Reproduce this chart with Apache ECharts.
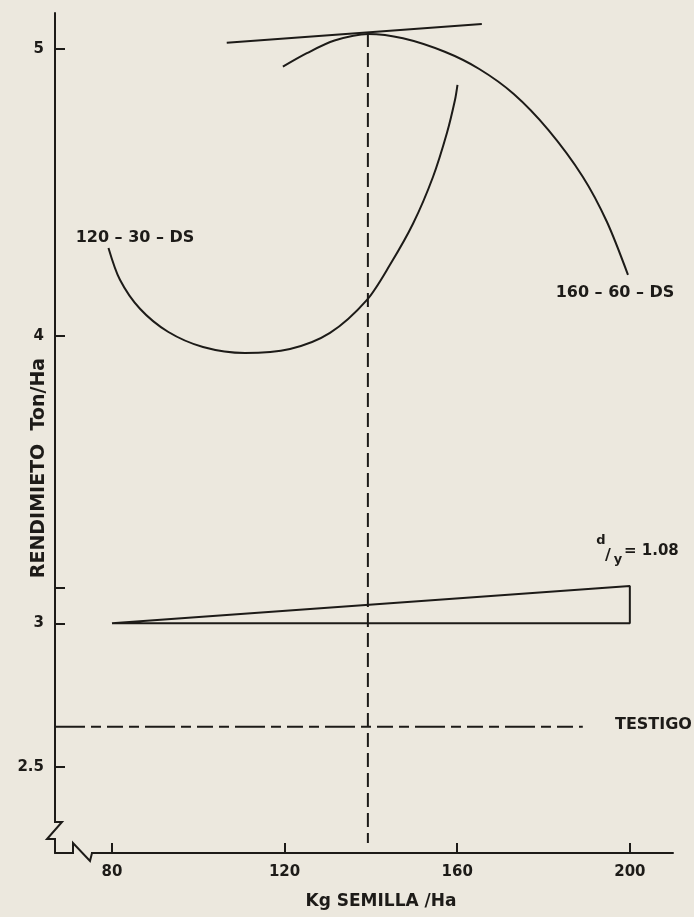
<!DOCTYPE html>
<html>
<head>
<meta charset="utf-8">
<script src="https://cdn.jsdelivr.net/npm/echarts@6/dist/echarts.min.js"></script>
<style>
  html, body { margin: 0; padding: 0; background: #ece8de; }
  #chart { width: 694px; height: 917px; }
</style>
</head>
<body>
<div id="chart"></div>
<script>
// Seed rate (kg/ha) and yield (t/ha) for the two fertiliser treatments
const dosis120 = [79.19, 81.85, 86.49, 92.98, 101.09, 110.82, 121.25, 130.52, 139.09, 144.42, 149.75, 154.38, 157.63, 159.48, 160.06];
const rend120  = [4.307, 4.196, 4.095, 4.015, 3.962, 3.941, 3.955, 4.011, 4.126, 4.248, 4.391, 4.554, 4.708, 4.822, 4.875];

const dosis160 = [119.6, 125.16, 131.56, 139.32, 147.43, 157.11, 165.11, 173.10, 181.1, 189.09, 194.68, 199.57];
const rend160  = [4.938, 4.985, 5.029, 5.052, 5.037, 4.990, 4.930, 4.843, 4.718, 4.555, 4.398, 4.213];

// Tangent at the optimum of 160-60-DS and the optimum seed rate
const tangenteX = [106.6, 165.7];
const tangenteY = [5.021, 5.087];
const optimoX = 139.3;
const optimoY = [5.055, 2.235];

// Control yield (testigo)
const testigoX = [66.8, 189.1];
const testigoY = 2.64;

// d/y wedge: from 80 to 200 kg/ha, rising from 3.0 to 3.13
const cunaX = [80, 200, 200, 80];
const cunaY = [3.0, 3.0, 3.13, 3.0];

// Axis ticks and labels
const xTicks = [80, 120, 160, 200];
const yTicks = [2.5, 3, 3.125, 4, 5];
const yLabels = [2.5, 3, 4, 5];

const ink = '#1d1b18';
const paper = '#ece8de';
const font = '"DejaVu Sans", sans-serif';

const zip = (xs, ys) => xs.map((x, i) => [x, Array.isArray(ys) ? ys[i] : ys]);

const lineSeries = (data, extra) => Object.assign({
  type: 'line',
  data: data,
  symbol: 'none',
  silent: true,
  clip: false,
  lineStyle: { color: ink, width: 2 }
}, extra || {});

const chart = echarts.init(document.getElementById('chart'), null, { renderer: 'canvas' });

chart.setOption({
  backgroundColor: paper,
  animation: false,
  grid: { left: 55, top: 13, right: 21, bottom: 64, containLabel: false },
  xAxis: {
    type: 'value',
    min: 66.8,
    max: 210,
    splitLine: { show: false },
    axisLine: { show: true, onZero: false, lineStyle: { color: ink, width: 2 } },
    axisTick: { show: true, inside: true, length: 10, customValues: xTicks, lineStyle: { color: ink, width: 2 } },
    axisLabel: {
      customValues: xTicks,
      margin: 12,
      color: ink,
      fontFamily: font,
      fontWeight: 'bold',
      fontSize: 15
    }
  },
  yAxis: {
    type: 'value',
    min: 2.2,
    max: 5.125,
    splitLine: { show: false },
    axisLine: { show: true, onZero: false, lineStyle: { color: ink, width: 2 } },
    axisTick: { show: true, inside: true, length: 10, customValues: yTicks, lineStyle: { color: ink, width: 2 } },
    axisLabel: {
      customValues: yLabels,
      margin: 11,
      color: ink,
      fontFamily: font,
      fontWeight: 'bold',
      fontSize: 15,
      padding: [0, 0, 6, 0],
      formatter: v => String(v)
    }
  },
  series: [
    lineSeries(zip(dosis120, rend120), { name: '120-30-DS', smooth: 0.3 }),
    lineSeries(zip(dosis160, rend160), { name: '160-60-DS', smooth: 0.3 }),
    lineSeries(zip(tangenteX, tangenteY), { name: 'tangente' }),
    lineSeries(zip([optimoX, optimoX], optimoY), {
      name: 'optimo',
      lineStyle: { color: ink, width: 2, type: [14, 6] }
    }),
    lineSeries(zip(testigoX, testigoY), {
      name: 'testigo',
      lineStyle: { color: ink, width: 2, type: [30, 6, 10, 6, 16, 6, 10, 6] }
    }),
    lineSeries(zip(cunaX, cunaY), { name: 'd/y' })
  ],
  graphic: [
    // axis breaks
    { type: 'rect', shape: { x: 52, y: 823, width: 6, height: 15 }, style: { fill: paper }, z: 100 },
    { type: 'polyline', shape: { points: [[55, 822], [62, 822], [47, 839], [55, 839]] },
      style: { stroke: ink, lineWidth: 2, fill: null }, z: 101 },
    { type: 'rect', shape: { x: 74, y: 850, width: 17, height: 6 }, style: { fill: paper }, z: 100 },
    { type: 'polyline', shape: { points: [[73, 853], [73, 843], [90, 861], [92, 853]] },
      style: { stroke: ink, lineWidth: 2, fill: null }, z: 101 },

    // axis titles
    { type: 'text', x: 39, y: 468, rotation: Math.PI / 2, z: 110,
      style: { text: 'RENDIMIETO  Ton/Ha', font: 'bold 19px ' + font, fill: ink, textAlign: 'center', textVerticalAlign: 'middle' } },
    { type: 'text', x: 381, y: 902, z: 110,
      style: { text: 'Kg SEMILLA /Ha', font: 'bold 17px ' + font, fill: ink, textAlign: 'center', textVerticalAlign: 'middle' } },

    // curve labels
    { type: 'text', x: 135, y: 238, z: 110,
      style: { text: '120 – 30 – DS', font: 'bold 16px ' + font, fill: ink, textAlign: 'center', textVerticalAlign: 'middle' } },
    { type: 'text', x: 615, y: 293, z: 110,
      style: { text: '160 – 60 – DS', font: 'bold 16px ' + font, fill: ink, textAlign: 'center', textVerticalAlign: 'middle' } },
    { type: 'text', x: 615, y: 725, z: 110,
      style: { text: 'TESTIGO', font: 'bold 16px ' + font, fill: ink, textAlign: 'left', textVerticalAlign: 'middle' } },

    // d/y = 1.08
    { type: 'text', x: 601, y: 541, z: 110,
      style: { text: 'd', font: 'bold 13px ' + font, fill: ink, textAlign: 'center', textVerticalAlign: 'middle' } },
    { type: 'text', x: 608, y: 556, z: 110,
      style: { text: '/', font: 'bold 16px ' + font, fill: ink, textAlign: 'center', textVerticalAlign: 'middle' } },
    { type: 'text', x: 618, y: 560, z: 110,
      style: { text: 'y', font: 'bold 13px ' + font, fill: ink, textAlign: 'center', textVerticalAlign: 'middle' } },
    { type: 'text', x: 624, y: 551, z: 110,
      style: { text: '= 1.08', font: 'bold 15px ' + font, fill: ink, textAlign: 'left', textVerticalAlign: 'middle' } }
  ]
});
</script>
</body>
</html>
